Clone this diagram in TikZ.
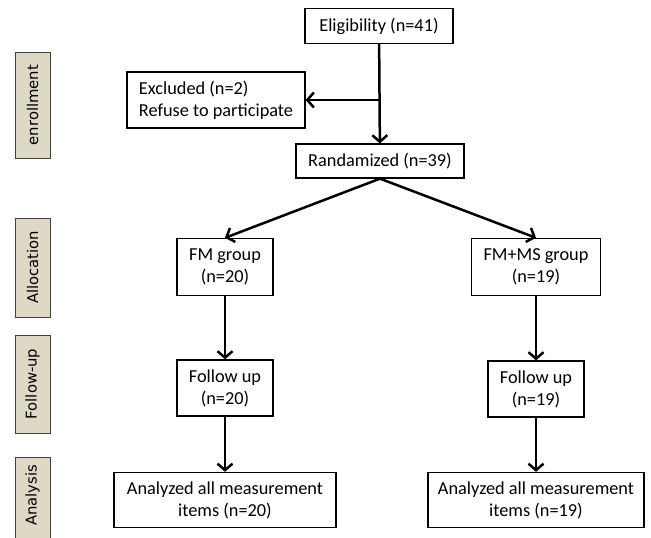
\documentclass[tikz,border=0pt]{standalone}
\usepackage{fontspec}
\setmainfont{Carlito}
\newfontfamily\sidefont{DejaVu Sans}
\usepackage{xcolor}
\usetikzlibrary{arrows.meta}
\definecolor{phasefill}{RGB}{221,217,196}

\begin{document}
\begin{tikzpicture}[x=1pt, y=-1pt,
    box/.style={draw, line width=1.3pt, align=center, inner sep=0pt,
        font=\fontsize{18.3}{22}\selectfont},
    phase/.style={draw=black!75, line width=1pt, fill=phasefill, rotate=90,
        minimum height=35pt, inner sep=0pt, font=\sidefont\fontsize{14.8}{17}\selectfont},
    arr/.style={line width=2.5pt, -{Straight Barb[length=6.5pt, width=15pt]}}]
    \useasboundingbox (0,0) rectangle (651,538);
    \clip (0,0) rectangle (651,538);

    % Phases on the left
    \node[phase, minimum width=106pt] (enrol) at (32.5,105) {enrollment};
    \node[phase, minimum width=99pt] (alloc) at (32.5,267.5) {Allocation};
    \node[phase, minimum width=98pt] (follow) at (32.5,384) {Follow-up};
    \node[phase, inner xsep=8pt, text width=84pt, align=right] (analysis) at (32.5,507) {Analysis};

    % Enrollment
    \node[box, minimum width=148pt, minimum height=35pt] (elig) at (379,26) {Eligibility (n=41)};
    \node[box, minimum width=178pt, minimum height=56pt, align=left] (excl) at (216,100) {Excluded (n=2)\\Refuse to participate};
    \node[box, minimum width=168pt, minimum height=34pt] (rand) at (380,161) {Randamized (n=39)};
    \draw[arr] (elig) -- (rand);
    \coordinate (split) at (elig.south |- excl.east);
    \draw[arr] (split) -- (excl);

    % Two groups
    \node[box, minimum width=96pt, minimum height=57pt] (fm) at (225,267) {FM group\\(n=20)};
    \node[box, minimum width=129pt, minimum height=57pt] (fmms) at (536,267) {FM+MS group\\(n=19)};
    \draw[arr] (rand.south) -- (fm.north);
    \draw[arr] (rand.south) -- (fmms.north);

    % Follow up
    \node[box, minimum width=96pt, minimum height=56pt] (fufm) at (225,388) {Follow up\\(n=20)};
    \node[box, minimum width=96pt, minimum height=56pt] (fufmms) at (536,389) {Follow up\\(n=19)};
    \draw[arr] (fm) -- (fufm);
    \draw[arr] (fmms) -- (fufmms);

    % Analysis
    \node[box, minimum width=222pt, minimum height=55pt] (anfm) at (225,500) {Analyzed all measurement\\items (n=20)};
    \node[box, minimum width=216pt, minimum height=55pt] (anfmms) at (536,500) {Analyzed all measurement\\items (n=19)};
    \draw[arr] (fufm) -- (anfm);
    \draw[arr] (fufmms) -- (anfmms);
\end{tikzpicture}
\end{document}
